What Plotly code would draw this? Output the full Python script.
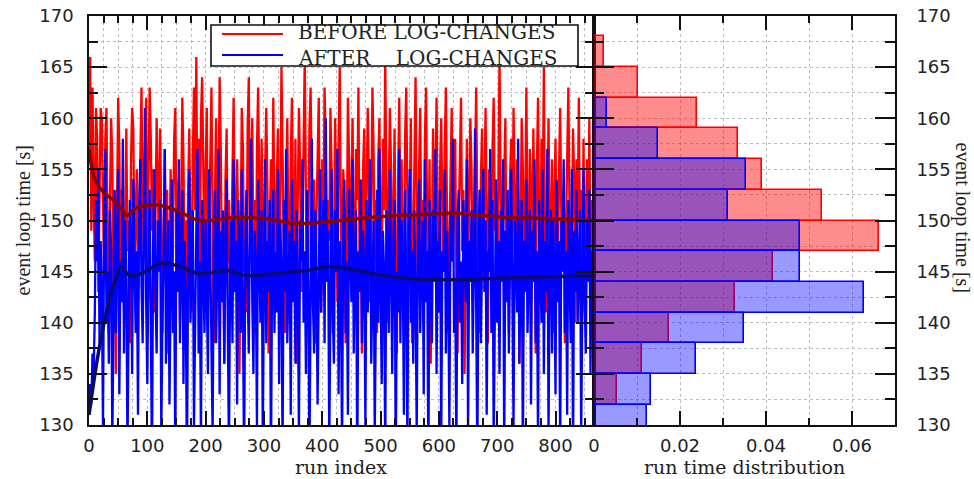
import plotly.graph_objects as go

# ---------------- data ----------------
RUN_STEP = 2  # one sample every 2 runs

red_vals = [
    157, 166, 149, 163, 152, 146, 161, 158, 143, 155, 161, 160, 150, 144, 158, 161, 147, 139, 152, 160,
    156, 143, 148, 135, 151, 162, 157, 145, 153, 149, 141, 154, 159, 147, 150, 138, 156, 161, 159, 146,
    151, 155, 142, 149, 160, 163, 152, 147, 157, 162, 145, 153, 163, 158, 149, 155, 141, 150, 160, 154,
    146, 159, 151, 139, 148, 157, 144, 153, 137, 150, 155, 142, 147, 158, 161, 149, 143, 154, 140, 151,
    162, 156, 145, 150, 138, 153, 159, 147, 141, 156, 163, 151, 166, 148, 158, 143, 160, 164, 152, 146,
    155, 161, 142, 150, 157, 163, 149, 138, 153, 160, 145, 151, 164, 157, 144, 148, 136, 154, 159, 146,
    152, 140, 147, 158, 162, 150, 143, 156, 149, 135, 153, 161, 157, 145, 150, 141, 159, 164, 148, 155,
    160, 146, 152, 139, 157, 163, 150, 144, 158, 148, 141, 155, 161, 153, 137, 149, 156, 145, 162, 151,
    147, 154, 159, 142, 150, 165, 157, 146, 139, 153, 160, 148, 143, 156, 162, 150, 145, 158, 136, 152,
    161, 155, 143, 149, 157, 166, 152, 140, 147, 159, 163, 151, 145, 154, 138, 150, 158, 162, 147, 141,
    156, 150, 163, 157, 144, 152, 148, 161, 155, 139, 146, 160, 153, 142, 158, 165, 149, 143, 155, 151,
    138, 147, 162, 156, 145, 153, 160, 148, 141, 157, 152, 163, 146, 150, 137, 155, 159, 144, 151, 161,
    154, 142, 149, 163, 157, 146, 152, 139, 156, 160, 148, 144, 158, 151, 166, 147, 140, 153, 161, 155,
    145, 150, 159, 143, 137, 154, 162, 149, 156, 147, 141, 158, 163, 152, 145, 151, 160, 138, 148, 157,
    164, 150, 143, 155, 161, 147, 152, 140, 158, 163, 149, 145, 156, 136, 151, 159, 146, 153, 162, 148,
    141, 155, 160, 151, 145, 157, 163, 150, 139, 148, 154, 161, 146, 152, 158, 143, 137, 150, 156, 162,
    147, 153, 135, 149, 158, 144, 151, 160, 155, 142, 148, 157, 163, 150, 145, 139, 154, 159, 147, 152,
    161, 146, 138, 155, 150, 143, 157, 162, 149, 153, 141, 159, 166, 152, 144, 148, 156, 160, 145, 151,
    139, 154, 158, 147, 161, 150, 143, 156, 152, 136, 148, 160, 155, 145, 151, 163, 149, 142, 157, 153,
    146, 159, 150, 137, 155, 162, 148, 144, 158, 151, 165, 147, 141, 153, 160, 149, 145, 156, 139, 152,
    158, 147, 143, 155, 161, 150, 146, 153, 138, 149, 157, 163, 151, 144, 148, 159, 154, 140, 156, 150,
    162, 147, 153, 145, 158, 141, 150, 156, 148, 160, 144, 152, 149,
]

blue_vals = [
    131, 134, 132, 137, 135, 141, 152, 146, 155, 138, 148, 143, 130, 150, 157, 140, 145, 136, 151, 147,
    128, 144, 153, 139, 149, 155, 133, 146, 142, 158, 137, 150, 145, 127, 141, 152, 148, 135, 154, 143,
    139, 147, 131, 151, 156, 144, 138, 149, 161, 142, 134, 146, 153, 140, 126, 148, 155, 143, 137, 150,
    145, 152, 129, 141, 147, 157, 136, 144, 150, 132, 148, 154, 139, 145, 127, 151, 143, 156, 138, 146,
    153, 134, 148, 142, 125, 147, 155, 140, 145, 151, 130, 143, 149, 157, 137, 146, 128, 152, 144, 139,
    150, 143, 135, 155, 146, 141, 129, 148, 153, 138, 145, 157, 133, 149, 142, 151, 136, 147, 154, 140,
    127, 145, 150, 138, 156, 143, 148, 132, 152, 146, 139, 155, 141, 126, 147, 153, 144, 137, 150, 158,
    142, 135, 149, 145, 130, 154, 147, 140, 151, 128, 144, 156, 138, 148, 143, 152, 125, 146, 153, 139,
    147, 141, 155, 134, 150, 145, 127, 152, 143, 157, 138, 146, 149, 131, 154, 142, 148, 136, 151, 144,
    129, 150, 146, 156, 140, 147, 135, 153, 144, 126, 149, 158, 142, 137, 151, 145, 132, 148, 155, 141,
    146, 152, 138, 160, 144, 149, 128, 147, 155, 141, 136, 151, 145, 157, 133, 148, 143, 127, 150, 154,
    139, 146, 131, 153, 148, 142, 156, 137, 145, 151, 125, 147, 143, 154, 138, 149, 145, 130, 152, 141,
    148, 156, 136, 144, 150, 129, 146, 153, 140, 157, 143, 134, 149, 145, 127, 151, 147, 139, 155, 142,
    135, 148, 152, 126, 145, 141, 157, 138, 150, 146, 131, 153, 144, 128, 149, 155, 140, 147, 136, 151,
    143, 129, 148, 154, 139, 146, 150, 133, 156, 142, 147, 125, 152, 145, 138, 151, 144, 157, 135, 148,
    141, 153, 128, 147, 145, 155, 137, 149, 143, 130, 151, 146, 158, 139, 144, 127, 150, 153, 140, 146,
    134, 152, 147, 142, 156, 129, 148, 144, 151, 137, 145, 159, 141, 126, 149, 153, 138, 146, 155, 143,
    150, 131, 147, 145, 157, 139, 152, 128, 146, 154, 140, 148, 135, 151, 144, 156, 127, 149, 142, 153,
    137, 146, 155, 143, 130, 150, 147, 141, 158, 136, 145, 152, 126, 148, 143, 154, 139, 147, 151, 132,
    149, 144, 156, 138, 147, 128, 152, 145, 140, 155, 135, 148, 143, 157, 129, 146, 151, 137, 150, 145,
    133, 154, 142, 148, 127, 150, 145, 156, 139, 147, 131, 152, 144, 138, 155, 126, 149, 143, 153, 140,
    146, 151, 129, 148, 155, 142, 137, 150, 144, 153, 135, 147, 145,
]

# running means (read at sample runs)
red_mean_runs = [0, 10, 20, 30, 42, 55, 65, 80, 100, 120, 150, 190, 250, 300, 357, 430, 480, 533, 580, 624, 670, 717, 780, 865]
red_mean_vals = [157, 154, 153.1, 152.5, 152, 151.2, 150.5, 151.2, 151.5, 151.5, 151, 150, 150.3, 150.2, 149.7, 150,
                 150.3, 150.5, 150.6, 150.7, 150.5, 150.3, 150.2, 150]
blue_mean_runs = [0, 5, 13, 24, 36, 46, 56, 70, 93, 122, 150, 190, 236, 271, 316, 373, 413, 459, 533, 624, 717, 865]
blue_mean_vals = [131, 133, 136, 139.5, 142.5, 144.3, 145.4, 144.6, 144.9, 145.8, 145.6, 144.8, 145.1, 144.6, 144.8,
                  145.1, 145.5, 145.1, 144.4, 144.2, 144.4, 144.6]

# histograms (bin lower edges, width 3 s, normalised density)
BIN_W = 3
red_bin_lo = [132, 135, 138, 141, 144, 147, 150, 153, 156, 159, 162, 165]
red_density = [0.0053, 0.0112, 0.0175, 0.0328, 0.0417, 0.0662, 0.0530, 0.0390, 0.0336, 0.0239, 0.0103, 0.0023]
blue_bin_lo = [129, 132, 135, 138, 141, 144, 147, 150, 153, 156, 159]
blue_density = [0.0124, 0.0133, 0.0237, 0.0349, 0.0628, 0.0479, 0.0479, 0.0312, 0.0353, 0.0148, 0.0031]

legend_names = ["BEFORE LOG-CHANGES", "AFTER\u00a0\u00a0\u00a0\u00a0LOG-CHANGES"]

# ---------------- figure ----------------
W, H = 974, 479
ML, MR, MT, MB = 89, 79, 16, 54
PW, PH = W - ML - MR, H - MT - MB
SPLIT = 594


def px(xp):
    return (xp - ML) / PW


def py(yp):
    return 1 - (yp - MT) / PH


runs = list(range(0, RUN_STEP * len(red_vals), RUN_STEP))

fig = go.Figure()
fig.add_trace(go.Scatter(x=runs, y=red_vals, mode="lines", line=dict(color="#ff0000", width=2.3),
                         name=legend_names[0], showlegend=False, xaxis="x", yaxis="y"))
fig.add_trace(go.Scatter(x=runs, y=blue_vals, mode="lines", line=dict(color="#0000ff", width=2.3),
                         name=legend_names[1], showlegend=False, xaxis="x", yaxis="y"))
fig.add_trace(go.Scatter(x=red_mean_runs, y=red_mean_vals, mode="lines",
                         line=dict(color="#8b0000", width=3.5, shape="spline"), showlegend=False))
fig.add_trace(go.Scatter(x=blue_mean_runs, y=blue_mean_vals, mode="lines",
                         line=dict(color="#0a0a70", width=3.5, shape="spline"), showlegend=False))

fig.add_trace(go.Bar(y=[b + BIN_W / 2 for b in red_bin_lo], x=red_density, orientation="h", width=BIN_W,
                     marker=dict(color="rgba(255,0,0,0.45)", line=dict(color="#ff0000", width=1.6)),
                     xaxis="x2", yaxis="y2", showlegend=False))
fig.add_trace(go.Bar(y=[b + BIN_W / 2 for b in blue_bin_lo], x=blue_density, orientation="h", width=BIN_W,
                     marker=dict(color="rgba(0,0,255,0.40)", line=dict(color="#0000ff", width=1.6)),
                     xaxis="x2", yaxis="y2", showlegend=False))

tickfont = dict(family="DejaVu Sans", size=18, color="#222222")
grid = dict(showgrid=True, gridcolor="#bdbdbd", griddash="dot", gridwidth=1)
common = dict(showline=True, linecolor="#111111", linewidth=1.6, mirror="allticks", ticks="inside",
              tickcolor="#111111", tickwidth=1.5, tickfont=tickfont, zeroline=False, automargin=False, **grid)

split_frac = px(SPLIT)
fig.update_layout(
    width=W, height=H,
    margin=dict(l=ML, r=MR, t=MT, b=MB, autoexpand=False),
    paper_bgcolor="white", plot_bgcolor="white",
    barmode="overlay", bargap=0,
    showlegend=False,
    xaxis=dict(domain=[0, split_frac], range=[0, 866], anchor="y", dtick=100, tick0=0, ticklen=14,
               ticklabelstandoff=4,
               minor=dict(dtick=25, ticks="inside", ticklen=7, tickcolor="#111111", **grid), **common),
    yaxis=dict(domain=[0, 1], range=[130, 170], anchor="x", dtick=5, ticklen=18, ticklabelstandoff=10,
               minor=dict(dtick=2.5, ticks="inside", ticklen=9, tickcolor="#111111", **grid), **common),
    xaxis2=dict(domain=[split_frac, 1], range=[0, 0.07], anchor="y2", dtick=0.02, tick0=0, ticklen=14,
                ticklabelstandoff=4,
                minor=dict(dtick=0.01, ticks="inside", ticklen=7, tickcolor="#111111", **grid), **common),
    yaxis2=dict(domain=[0, 1], range=[130, 170], anchor="x2", side="right", dtick=5, ticklen=20,
                ticklabelstandoff=16,
                minor=dict(dtick=2.5, ticks="inside", ticklen=10, tickcolor="#111111", **grid), **common),
)

serif = "Liberation Serif"
ann = [
    dict(text="event loop time [s]", x=px(23), y=0.5, textangle=-90, font=dict(family=serif, size=20, color="#222")),
    dict(text="event loop time [s]", x=px(974), xanchor="right", y=py(218), textangle=90,
         font=dict(family=serif, size=20, color="#222")),
    dict(text="run index", x=px(341), y=py(479), yanchor="bottom",
         font=dict(family="DejaVu Serif", size=19, color="#222")),
    dict(text="run time distribution", x=px(744), y=py(479), yanchor="bottom",
         font=dict(family="DejaVu Serif", size=19, color="#222")),
    dict(text=legend_names[0], x=px(297), y=py(45.5), xanchor="left", yanchor="bottom",
         font=dict(family="DejaVu Serif", size=20, color="#222")),
    dict(text=legend_names[1], x=px(297), y=py(45.5), xanchor="left", yanchor="top",
         font=dict(family="DejaVu Serif", size=20, color="#222")),
]
for a in ann:
    a.setdefault("xanchor", "center")
    a.setdefault("yanchor", "middle")
    a.update(xref="paper", yref="paper", showarrow=False, borderpad=0)
fig.update_layout(annotations=ann)

fig.update_layout(shapes=[
    dict(type="rect", xref="paper", yref="paper", x0=px(211), x1=px(578), y0=py(66), y1=py(25),
         fillcolor="white", line=dict(color="#111111", width=1.6), layer="above"),
    dict(type="line", xref="paper", yref="paper", x0=px(222), x1=px(283), y0=py(34), y1=py(34),
         line=dict(color="#ff0000", width=2), layer="above"),
    dict(type="line", xref="paper", yref="paper", x0=px(222), x1=px(283), y0=py(55), y1=py(55),
         line=dict(color="#0000ff", width=2), layer="above"),
])

fig.write_html("out.html")
